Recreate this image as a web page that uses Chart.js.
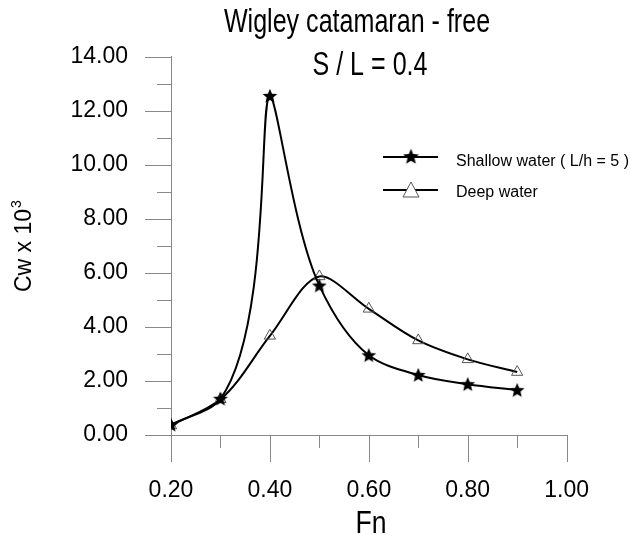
<!DOCTYPE html>
<html lang="en">
<head>
<meta charset="UTF-8">
<title>Wigley catamaran - free</title>
<script src="https://cdn.jsdelivr.net/npm/chart.js"></script>
<style>
  body { margin: 0; background: #fff; }
</style>
</head>
<body>
<canvas id="myChart" width="631" height="534"></canvas>
<script>
// Froude numbers and wave resistance coefficients (x 10^3)
var fnValues = [0.2, 0.3, 0.4, 0.5, 0.6, 0.7, 0.8, 0.9];
var shallowCw = [0.38, 1.34, 12.55, 5.53, 2.95, 2.22, 1.88, 1.66];
var deepCw = [0.35, 1.32, 3.67, 5.87, 4.67, 3.50, 2.80, 2.33];
var xTickLabels = [0.2, 0.4, 0.6, 0.8, 1.0];
var yTickLabels = [0, 2, 4, 6, 8, 10, 12, 14];

var seriesNames = ['Shallow water ( L/h = 5 )', 'Deep water'];
var titleLines = ['Wigley catamaran - free', 'S / L = 0.4'];

var fontFamily = '"Liberation Sans", Arial, sans-serif';

// filled five-point star used as point marker
function makeStar(size) {
    var c = document.createElement('canvas');
    c.width = size; c.height = size;
    var g = c.getContext('2d');
    var cx = size / 2, cy = size / 2 + 0.5, ro = size / 2 - 0.3, ri = ro * 0.45;
    g.beginPath();
    for (var i = 0; i < 10; i++) {
        var r = i % 2 ? ri : ro;
        var a = -Math.PI / 2 + i * Math.PI / 5;
        var px = cx + r * Math.cos(a), py = cy + r * Math.sin(a);
        if (i == 0) g.moveTo(px, py); else g.lineTo(px, py);
    }
    g.closePath();
    g.fillStyle = '#000';
    g.fill();
    return c;
}
var star = makeStar(16);
var legendStar = makeStar(17);

function toPoints(ys) {
    return fnValues.map(function (x, i) { return { x: x, y: ys[i] }; });
}

// smooth curve through the points: handles follow the bisector of the
// two chords and shrink where the curve turns sharply (the resonance peak)
function dist(a, b) {
    return Math.sqrt((a.x - b.x) * (a.x - b.x) + (a.y - b.y) * (a.y - b.y));
}
function setSplineControls(points) {
    var n = points.length;
    for (var i = 0; i < n; i++) {
        var p = points[i], prev = points[i - 1], next = points[i + 1];
        var lin = prev ? dist(prev, p) : 0, lout = next ? dist(p, next) : 0;
        var ux, uy, f = 1;
        if (prev && next) {
            var ax = (p.x - prev.x) / lin, ay = (p.y - prev.y) / lin;
            var bx = (next.x - p.x) / lout, by = (next.y - p.y) / lout;
            ux = ax + bx; uy = ay + by;
            var m = Math.sqrt(ux * ux + uy * uy);
            ux /= m; uy /= m;
            f = Math.pow((1 + ax * bx + ay * by) / 2, 0.7);
        } else if (next) {
            ux = (next.x - p.x) / lout; uy = (next.y - p.y) / lout;
        } else {
            ux = (p.x - prev.x) / lin; uy = (p.y - prev.y) / lin;
        }
        p.cp1x = p.x - ux * f * lin / 3;
        p.cp1y = p.y - uy * f * lin / 3;
        p.cp2x = p.x + ux * f * lout / 3;
        p.cp2y = p.y + uy * f * lout / 3;
    }
}

var smoothCurves = {
    id: 'smoothCurves',
    beforeDatasetDraw: function (chart, args) {
        var line = args.meta.dataset;
        if (!line) return;
        if (line.updateControlPoints) line.updateControlPoints(chart.chartArea, 'x');
        setSplineControls(args.meta.data);
        line._path = undefined;
    }
};

var decorations = {
    id: 'decorations',
    afterDraw: function (chart) {
        var ctx = chart.ctx;
        var xs = chart.scales.x, ys = chart.scales.y;
        var area = chart.chartArea;
        ctx.save();

        // tick marks, long on labelled values
        ctx.strokeStyle = '#888';
        ctx.lineWidth = 1;
        ctx.beginPath();
        for (var v = 0; v <= 14; v++) {
            var py = Math.round(ys.getPixelForValue(v)) + 0.5;
            var len = v % 2 == 0 ? 26 : 14;
            ctx.moveTo(area.left - len, py);
            ctx.lineTo(area.left, py);
        }
        for (var k = 2; k <= 10; k++) {
            var px = Math.round(xs.getPixelForValue(k / 10)) + 0.5;
            var tl = k % 2 == 0 ? 27 : 13;
            ctx.moveTo(px, area.bottom);
            ctx.lineTo(px, area.bottom + tl);
        }
        ctx.stroke();

        ctx.fillStyle = '#000';
        ctx.textAlign = 'center';
        ctx.textBaseline = 'alphabetic';

        // title, condensed
        ctx.font = '33px ' + fontFamily;
        ctx.save();
        ctx.translate(357, 32);
        ctx.scale(0.76, 1);
        ctx.fillText(titleLines[0], 0, 0);
        ctx.restore();
        ctx.save();
        ctx.translate(370, 75);
        ctx.scale(0.76, 1);
        ctx.fillText(titleLines[1], 0, 0);
        ctx.restore();

        // axis titles
        ctx.save();
        ctx.font = '32px ' + fontFamily;
        ctx.translate(371, 533);
        ctx.scale(0.83, 1);
        ctx.fillText('Fn', 0, 0);
        ctx.restore();

        ctx.save();
        ctx.translate(31, 292);
        ctx.rotate(-Math.PI / 2);
        ctx.textAlign = 'left';
        ctx.font = '23px ' + fontFamily;
        var main = 'Cw x 10';
        var w1 = ctx.measureText(main).width;
        ctx.fillText(main, 0, 0);
        ctx.font = '14px ' + fontFamily;
        ctx.fillText('3', w1 + 1, -10);
        ctx.restore();

        // legend
        var rows = [157, 190];
        ctx.strokeStyle = '#000';
        ctx.lineWidth = 2;
        rows.forEach(function (ry) {
            ctx.beginPath();
            ctx.moveTo(383, ry);
            ctx.lineTo(438, ry);
            ctx.stroke();
        });
        ctx.drawImage(legendStar, 411 - 8.5, rows[0] - 9);
        ctx.strokeStyle = '#555';
        ctx.lineWidth = 1;
        ctx.fillStyle = '#fff';
        ctx.beginPath();
        ctx.moveTo(411, rows[1] - 8);
        ctx.lineTo(419, rows[1] + 7);
        ctx.lineTo(403, rows[1] + 7);
        ctx.closePath();
        ctx.fill();
        ctx.stroke();

        ctx.fillStyle = '#000';
        ctx.textAlign = 'left';
        ctx.font = '16px ' + fontFamily;
        ctx.fillText(seriesNames[0], 456, 166);
        ctx.fillText(seriesNames[1], 456, 197);

        ctx.restore();
    }
};

var ctx = document.getElementById('myChart').getContext('2d');
var myChart = new Chart(ctx, {
    type: 'line',
    data: {
        datasets: [{
            label: seriesNames[0],
            data: toPoints(shallowCw),
            borderColor: '#000',
            borderWidth: 2,
            tension: 0.4,
            pointStyle: star,
            pointRadius: 8,
            fill: false
        }, {
            label: seriesNames[1],
            data: toPoints(deepCw),
            borderColor: '#000',
            borderWidth: 2,
            tension: 0.4,
            pointStyle: 'triangle',
            pointRadius: 6.5,
            pointBorderWidth: 1,
            pointBorderColor: '#555',
            pointBackgroundColor: 'rgba(255,255,255,0)',
            fill: false
        }]
    },
    options: {
        responsive: false,
        animation: false,
        layout: { padding: { top: 35, right: 60, bottom: 0, left: 0 } },
        plugins: {
            legend: { display: false },
            tooltip: { enabled: false }
        },
        scales: {
            x: {
                type: 'linear',
                min: 0.2,
                max: 1.0,
                afterFit: function (scale) { scale.height = 99; },
                afterBuildTicks: function (scale) {
                    scale.ticks = xTickLabels.map(function (v) { return { value: v }; });
                },
                ticks: {
                    autoSkip: false,
                    maxRotation: 0,
                    padding: 42,
                    color: '#000',
                    font: { family: fontFamily, size: 23 },
                    callback: function (v) { return v.toFixed(2); }
                },
                grid: { display: false, drawTicks: false, tickLength: 0 },
                border: { display: true, color: '#888', width: 1 }
            },
            y: {
                min: 0,
                max: 14,
                afterFit: function (scale) { scale.width = 171; },
                afterBuildTicks: function (scale) {
                    scale.ticks = yTickLabels.map(function (v) { return { value: v }; });
                },
                ticks: {
                    autoSkip: false,
                    padding: 43,
                    color: '#000',
                    font: { family: fontFamily, size: 23 },
                    callback: function (v) { return v.toFixed(2); }
                },
                grid: { display: false, drawTicks: false, tickLength: 0 },
                border: { display: true, color: '#888', width: 1 }
            }
        }
    },
    plugins: [smoothCurves, decorations]
});
</script>
</body>
</html>
